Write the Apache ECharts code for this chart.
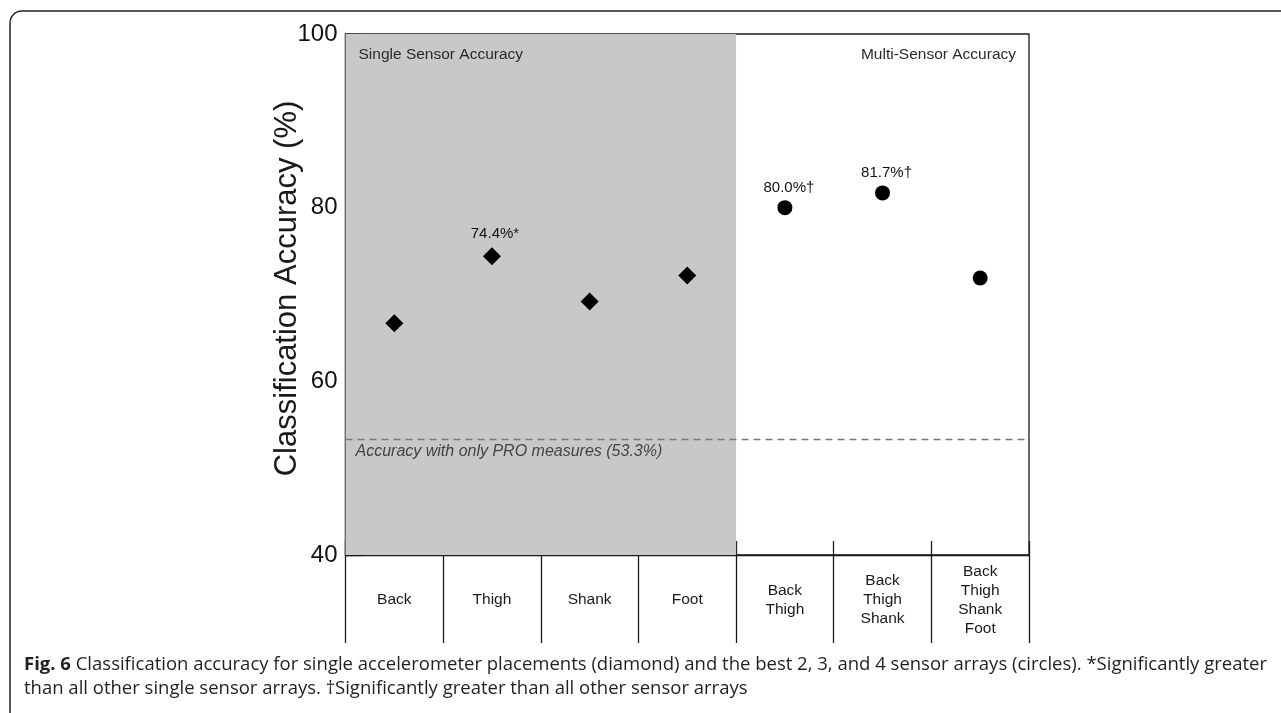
<!DOCTYPE html>
<html>
<head>
<meta charset="utf-8">
<script src="https://cdn.jsdelivr.net/npm/echarts@6/dist/echarts.min.js"></script>
<style>
  html, body { margin: 0; padding: 0; background: #ffffff; }
  #chart { width: 1281px; height: 713px; }
</style>
</head>
<body>
<div id="chart"></div>
<script>
// Sensor placements (one column each)
const categories = ['Back', 'Thigh', 'Shank', 'Foot', 'Back\nThigh', 'Back\nThigh\nShank', 'Back\nThigh\nShank\nFoot'];
// Single accelerometer placements (diamonds)
const singleSensorAccuracy = [66.7, 74.4, 69.2, 72.2];
const singleSensorNotes = ['', '*', '', ''];
// Best 2, 3 and 4 sensor arrays (circles)
const multiSensorAccuracy = [80.0, 81.7, 71.9];
const multiSensorNotes = ['\u2020', '\u2020', ''];
// Baseline: patient-reported outcome measures only
const proOnlyAccuracy = 53.3;
const yTicks = [40, 60, 80, 100];

const captionBold = 'Fig. 6';
const captionLine1 = ' Classification accuracy for single accelerometer placements (diamond) and the best 2, 3, and 4 sensor arrays (circles). *Significantly greater';
const captionLine2 = 'than all other single sensor arrays. \u2020Significantly greater than all other sensor arrays';

const SANS = '"Liberation Sans", Arial, Helvetica, sans-serif';
const CAPTION_FONT = '"Open Sans", sans-serif';
const INK = '#1a1a1a';

function pointLabel(v, note, dx) {
  return {
    show: note !== '',
    position: 'top',
    formatter: v.toFixed(1) + '%' + note,
    fontFamily: SANS,
    fontSize: 15,
    color: '#111',
    offset: [dx, 0]
  };
}

const singleData = singleSensorAccuracy.map((v, i) => ({
  value: [i, v],
  label: Object.assign(pointLabel(v, singleSensorNotes[i], 3), { distance: 6 })
}));
const multiOffset = singleSensorAccuracy.length;
const multiData = multiSensorAccuracy.map((v, i) => ({
  value: [multiOffset + i, v],
  label: Object.assign(pointLabel(v, multiSensorNotes[i], 4), { distance: 5 })
}));

const chart = echarts.init(document.getElementById('chart'), null, { renderer: 'canvas' });

chart.setOption({
  animation: false,
  backgroundColor: '#ffffff',
  grid: {
    left: 345.5, top: 34, width: 683.5, height: 521,
    show: true, borderColor: INK, borderWidth: 1.3,
    backgroundColor: 'transparent'
  },
  xAxis: [
    {
      // category labels with dividers running down through the label row
      type: 'category', data: categories, position: 'bottom',
      boundaryGap: true,
      axisLine: { show: true, lineStyle: { color: INK, width: 1.3 } },
      axisTick: { show: true, interval: 0, inside: false, length: 88, lineStyle: { color: INK, width: 1.3 } },
      axisLabel: {
        interval: 0, margin: 45, verticalAlign: 'middle',
        fontFamily: SANS, fontSize: 15.5, lineHeight: 19, color: '#1a1a1a'
      },
      splitLine: { show: false }
    },
    {
      // short divider stubs poking up into the plot
      type: 'category', data: categories, position: 'bottom',
      boundaryGap: true,
      axisLine: { show: false },
      axisTick: { show: true, interval: 0, inside: true, length: 14, lineStyle: { color: INK, width: 1.3 } },
      axisLabel: { show: false },
      splitLine: { show: false }
    },
    {
      // continuous scale across the columns for the shaded section
      type: 'value', min: 0, max: categories.length, show: false
    }
  ],
  yAxis: {
    type: 'value',
    min: yTicks[0], max: yTicks[yTicks.length - 1], interval: 20,
    name: 'Classification Accuracy (%)',
    nameLocation: 'middle', nameGap: 43, nameMoveOverlap: false,
    nameTextStyle: { fontFamily: SANS, fontSize: 31, color: INK, padding: [0, 0, 0, 12] },
    axisLine: { show: true, lineStyle: { color: INK, width: 1.3 } },
    axisTick: { show: true, inside: true, length: 17, lineStyle: { color: INK, width: 1.3 } },
    axisLabel: { fontFamily: SANS, fontSize: 24, color: '#111', margin: 8 },
    splitLine: { show: false }
  },
  series: [
    {
      // section backgrounds, headers and PRO-only baseline
      type: 'line', xAxisIndex: 2, data: [], z: -1, silent: true,
      markArea: {
        silent: true,
        data: [
          [
            {
              xAxis: 0, yAxis: yTicks[0],
              itemStyle: { color: '#c8c8c8' },
              label: {
                show: true, position: 'insideTopLeft', distance: 13,
                formatter: 'Single Sensor Accuracy',
                fontFamily: SANS, fontSize: 15.5, color: '#2a2a2a'
              }
            },
            { xAxis: singleSensorAccuracy.length, yAxis: yTicks[yTicks.length - 1] }
          ],
          [
            {
              xAxis: singleSensorAccuracy.length, yAxis: yTicks[0],
              itemStyle: { color: 'rgba(0,0,0,0)' },
              label: {
                show: true, position: 'insideTopRight', distance: 13,
                formatter: 'Multi-Sensor Accuracy',
                fontFamily: SANS, fontSize: 15.5, color: '#2a2a2a'
              }
            },
            { xAxis: categories.length, yAxis: yTicks[yTicks.length - 1] }
          ]
        ]
      },
      markLine: {
        silent: true, symbol: 'none',
        lineStyle: { type: [7, 5], color: '#7a7a7a', width: 1.3 },
        label: {
          show: true, position: 'insideStartBottom', distance: [10, 4],
          formatter: 'Accuracy with only PRO measures (' + proOnlyAccuracy.toFixed(1) + '%)',
          fontFamily: SANS, fontSize: 16, fontStyle: 'italic', color: '#444'
        },
        data: [{ yAxis: proOnlyAccuracy }]
      }
    },
    {
      name: 'Single sensor', type: 'scatter', xAxisIndex: 0,
      symbol: 'diamond', symbolSize: 18,
      itemStyle: { color: '#000', opacity: 1 },
      data: singleData, z: 3
    },
    {
      name: 'Sensor arrays', type: 'scatter', xAxisIndex: 0,
      symbol: 'circle', symbolSize: 15,
      itemStyle: { color: '#000', opacity: 1 },
      data: multiData, z: 3
    }
  ],
  graphic: [
    {
      type: 'rect', silent: true,
      shape: { x: 10, y: 11, width: 1320, height: 740, r: 12 },
      style: { fill: 'none', stroke: '#222', lineWidth: 1.5 }
    },
    {
      type: 'text', left: 24, top: 655, silent: true,
      style: {
        text: '{b|' + captionBold + '}' + captionLine1,
        font: '18.5px ' + CAPTION_FONT, fill: '#231f20',
        rich: { b: { fontWeight: 'bold', fontFamily: CAPTION_FONT, fontSize: 18.5, fill: '#231f20' } }
      }
    },
    {
      type: 'text', left: 24, top: 679, silent: true,
      style: { text: captionLine2, font: '18.5px ' + CAPTION_FONT, fill: '#231f20' }
    }
  ]
});
</script>
</body>
</html>
